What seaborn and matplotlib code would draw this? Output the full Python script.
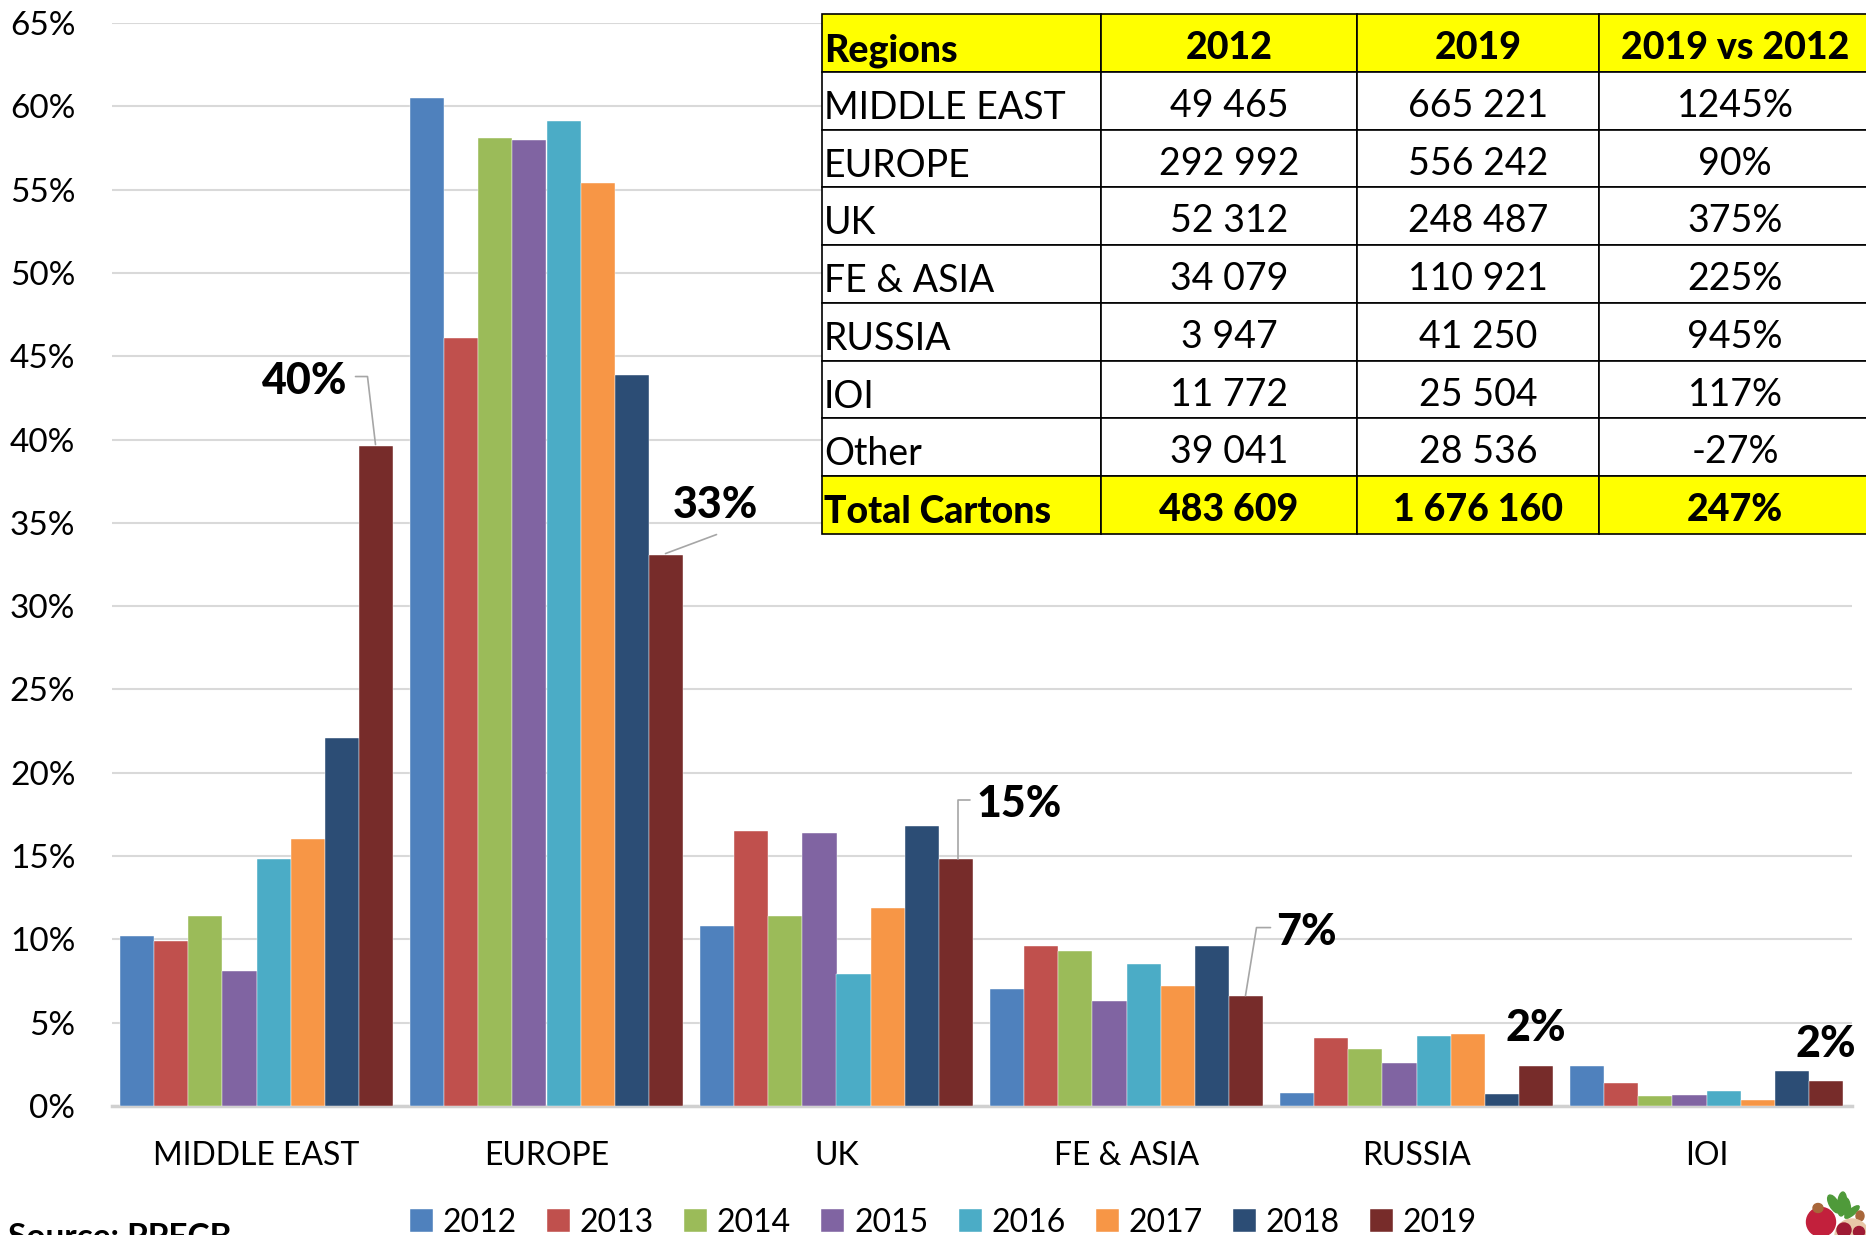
import matplotlib
matplotlib.use("Agg")
import matplotlib.pyplot as plt
from matplotlib.patches import Circle, Ellipse
import pandas as pd
import seaborn as sns

regions = ["MIDDLE EAST", "EUROPE", "UK", "FE & ASIA", "RUSSIA", "IOI"]
years = ["2012", "2013", "2014", "2015", "2016", "2017", "2018", "2019"]
colors = ["#4F81BD", "#C0504D", "#9BBB59", "#8064A2", "#4BACC6", "#F79646", "#2C4D75", "#772C2A"]

share_2012 = [10.2, 60.5, 10.8, 7.0, 0.8, 2.4]
share_2013 = [9.9, 46.1, 16.5, 9.6, 4.1, 1.4]
share_2014 = [11.4, 58.1, 11.4, 9.3, 3.4, 0.6]
share_2015 = [8.1, 58.0, 16.4, 6.3, 2.6, 0.65]
share_2016 = [14.8, 59.1, 7.9, 8.5, 4.2, 0.9]
share_2017 = [16.0, 55.4, 11.9, 7.2, 4.3, 0.35]
share_2018 = [22.1, 43.9, 16.8, 9.6, 0.7, 2.1]
share_2019 = [39.6, 33.1, 14.8, 6.6, 2.4, 1.5]

table_header = ["Regions", "2012", "2019", "2019 vs 2012"]
table_regions = ["MIDDLE EAST", "EUROPE", "UK", "FE & ASIA", "RUSSIA", "IOI", "Other", "Total Cartons"]
table_2012 = ["49 465", "292 992", "52 312", "34 079", "3 947", "11 772", "39 041", "483 609"]
table_2019 = ["665 221", "556 242", "248 487", "110 921", "41 250", "25 504", "28 536", "1 676 160"]
table_change = ["1245%", "90%", "375%", "225%", "945%", "117%", "-27%", "247%"]

W, H = 1866, 1235
FONT = 23


def to_data(x, y):
    # full-size reference pixels to axis units
    return (x - 257) / 290, (1106.4 - y) / 16.66


df = pd.DataFrame(
    [share_2012, share_2013, share_2014, share_2015, share_2016, share_2017, share_2018, share_2019],
    index=years, columns=regions,
).rename_axis("year").reset_index().melt(id_vars="year", var_name="region", value_name="share")

sns.set_theme(style="white")
plt.rcParams["font.family"] = ["Lato", "DejaVu Sans"]
plt.rcParams["text.color"] = "black"

fig = plt.figure(figsize=(W / 100, H / 100), dpi=100)
ax = fig.add_axes([111.5 / W, 1 - 1106 / H, 1740 / W, 1083 / H])

sns.barplot(data=df, x="region", y="share", hue="year", palette=colors, saturation=1,
            width=0.94, edgecolor="white", linewidth=0.3, ax=ax, zorder=3)

ax.set_xlim(-0.5, 5.5)
ax.set_ylim(0, 65)
ax.set_yticks(range(0, 70, 5))
ax.set_yticklabels([f"{v}%" for v in range(0, 70, 5)])
ax.set_xlabel("")
ax.set_ylabel("")
ax.grid(axis="y", color="#d9d9d9", lw=1.5, zorder=0)
ax.set_axisbelow(True)
sns.despine(ax=ax, left=True, top=True, right=True)
ax.spines["bottom"].set_color("#d0d0d0")
ax.spines["bottom"].set_linewidth(2.5)
ax.tick_params(axis="x", length=0, labelsize=FONT, pad=25, labelcolor="black")
ax.tick_params(axis="y", length=0, labelsize=FONT + 1, pad=26, labelcolor="black")

sns.move_legend(ax, "center", bbox_to_anchor=(832 / 1740, -117 / 1083), ncol=8, title=None, frameon=False,
                fontsize=FONT, handlelength=0.72, handleheight=0.72, handletextpad=0.3, columnspacing=0.95)

# callouts: label text, text position, leader points
callouts = [
    ("40%", (305, 381), [(356, 377), (368, 377), (376, 445)]),
    ("33%", (716, 505), [(717, 535), (666, 554)]),
    ("15%", (1020, 804), [(970, 800), (958, 800), (958, 859)]),
    ("7%", (1307, 932), [(1271, 928), (1257, 928), (1246, 996)]),
    ("2%", (1536, 1028), None),
    ("2%", (1826, 1044), None),
]
for label, (tx, ty), leader in callouts:
    dx, dy = to_data(tx, ty)
    ax.text(dx, dy, label, fontsize=31, fontweight=900, ha="center", va="center", zorder=6)
    if leader:
        pts = [to_data(*p) for p in leader]
        ax.plot([p[0] for p in pts], [p[1] for p in pts], color="#a6a6a6", lw=1.2, zorder=5, clip_on=False)

# overlay in figure space for the table and footer
over = fig.add_axes([0, 0, 1, 1], zorder=10)
over.set_xlim(0, W)
over.set_ylim(H, 0)
over.axis("off")
over.patch.set_alpha(0)

rows = [table_header] + [list(r) for r in zip(table_regions, table_2012, table_2019, table_change)]
col_edges = [822, 1101, 1357, 1599, 1871]
col_widths = [b - a for a, b in zip(col_edges, col_edges[1:])]
row_h = 520 / len(rows)
table = over.table(cellText=[[""] * 4 for _ in rows],
                   colWidths=[w / 1049 for w in col_widths],
                   bbox=[822 / W, 1 - 534 / H, 1049 / W, 520 / H])
for (r, c), cell in table.get_celld().items():
    cell.set_edgecolor("black")
    cell.set_linewidth(1.2)
    highlight = r == 0 or r == len(rows) - 1
    cell.set_facecolor("#FFFF00" if highlight else "white")

# cell text goes on by baseline, the table's own centring sits too high
for r, row in enumerate(rows):
    weight = 900 if r in (0, len(rows) - 1) else "normal"
    base = 14 + r * row_h
    for c, value in enumerate(row):
        if c == 0:
            over.text(824, base + 47, value, fontsize=27, fontweight=weight, ha="left", va="baseline", zorder=20)
        else:
            cx = (col_edges[c] + col_edges[c + 1]) / 2
            over.text(cx, base + 45, value, fontsize=27, fontweight=weight, ha="center", va="baseline", zorder=20)

# cut off by the bottom edge, same as the reference
over.text(8, 1223, "Source: PPECB", fontsize=24, fontweight="bold", ha="left", va="top")

# small pomegranate picture in the corner
for xy, size, angle in [((1834, 1204), (9, 20), -30), ((1842, 1204), (9, 24), 5),
                        ((1847, 1208), (7, 20), -5), ((1852, 1212), (6, 18), 50)]:
    over.add_patch(Ellipse(xy, size[0], size[1], angle=angle, color="#4f9a3a", zorder=5))
over.add_patch(Circle((1821, 1222), 14.5, color="#c2203c", zorder=6))
over.add_patch(Ellipse((1818, 1208), 10, 9, color="#a8663a", zorder=7))
over.add_patch(Ellipse((1860, 1216), 8, 10, color="#a8663a", zorder=7))
over.add_patch(Circle((1852, 1236), 17, color="#e8c8a8", zorder=8))
over.add_patch(Circle((1844, 1230), 7, color="#9e1b34", zorder=9))
over.add_patch(Circle((1859, 1232), 5.5, color="#9e1b34", zorder=9))

fig.savefig("out.png", dpi=100, facecolor="white")
